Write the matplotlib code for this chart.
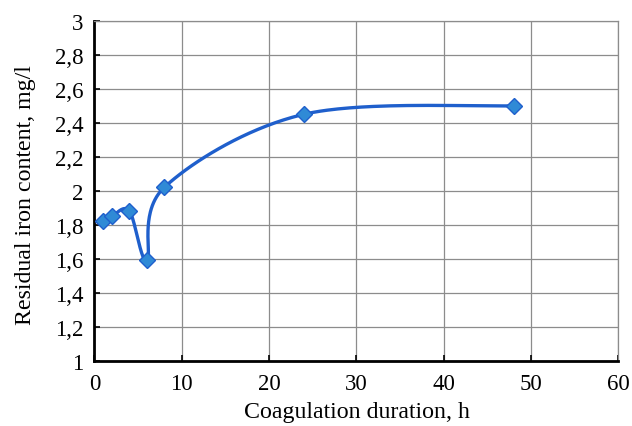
import numpy as np
import matplotlib
matplotlib.use("Agg")
import matplotlib.pyplot as plt
from matplotlib.ticker import FuncFormatter

# Data
duration_h = [1, 2, 4, 6, 8, 24, 48]
iron_mg_l = [1.82, 1.85, 1.88, 1.59, 2.02, 2.45, 2.50]
x_ticks = [0, 10, 20, 30, 40, 50, 60]
y_ticks = [1, 1.2, 1.4, 1.6, 1.8, 2, 2.2, 2.4, 2.6, 2.8, 3]

plt.rcParams['font.family'] = ['Liberation Serif', 'DejaVu Serif']

fig = plt.figure(figsize=(6.32, 4.27), dpi=100)
ax = fig.add_axes([0.1495, 0.153, 0.829, 0.796])
ax.set_xlim(0, 60)
ax.set_ylim(1, 3)


def excel_smooth(xs, ys, sx, sy, n=60):
    # Bezier smoothing (Excel-like) in scaled coordinates
    P = np.column_stack([np.asarray(xs) * sx, np.asarray(ys) * sy])
    out = []
    m = len(P)
    for i in range(m - 1):
        p0 = P[i - 1] if i > 0 else P[i]
        p1 = P[i]
        p2 = P[i + 1]
        p3 = P[i + 2] if i + 2 < m else P[i + 1]
        c1 = p1 + (p2 - p0) / 6.0
        c2 = p2 - (p3 - p1) / 6.0
        t = np.linspace(0, 1, n)[:, None]
        seg = ((1 - t) ** 3) * p1 + 3 * ((1 - t) ** 2) * t * c1 + 3 * (1 - t) * t ** 2 * c2 + t ** 3 * p2
        out.append(seg if i == 0 else seg[1:])
    pts = np.vstack(out)
    return pts[:, 0] / sx, pts[:, 1] / sy


# scale factors: pixels per data unit
sx = 523.5 / 60
sy = 340 / 2
cx, cy = excel_smooth(duration_h, iron_mg_l, sx, sy)
ax.plot(cx, cy, color='#1f5fcc', lw=2.4, zorder=3, solid_capstyle='round')
ax.plot(duration_h, iron_mg_l, linestyle='none', marker='D', markersize=8,
        markerfacecolor='#2f8ad6', markeredgecolor='#1f5fcc', markeredgewidth=1.0, zorder=4)

ax.set_xticks(x_ticks)
ax.set_yticks(y_ticks)
fmt = FuncFormatter(lambda v, p: ('%g' % round(v, 1)).replace('.', ','))
ax.xaxis.set_major_formatter(fmt)
ax.yaxis.set_major_formatter(fmt)
ax.grid(True, color='#8c8c8c', lw=0.9)
ax.set_axisbelow(True)
ax.tick_params(direction='in', length=4, width=1.2, labelsize=16.5, colors='black')
ax.tick_params(axis='x', pad=9)
ax.tick_params(axis='y', pad=8)

for s in ['left', 'bottom']:
    ax.spines[s].set_linewidth(2.0)
    ax.spines[s].set_color('black')
for s in ['right', 'top']:
    ax.spines[s].set_linewidth(0.9)
    ax.spines[s].set_color('#8c8c8c')

ax.set_xlabel('Coagulation duration, h', fontsize=17.2, labelpad=5)
ax.set_ylabel('Residual iron content, mg/l', fontsize=17.2, labelpad=6)
ax.yaxis.set_label_coords(-0.112, 0.49)

fig.savefig('out.png', dpi=100)
